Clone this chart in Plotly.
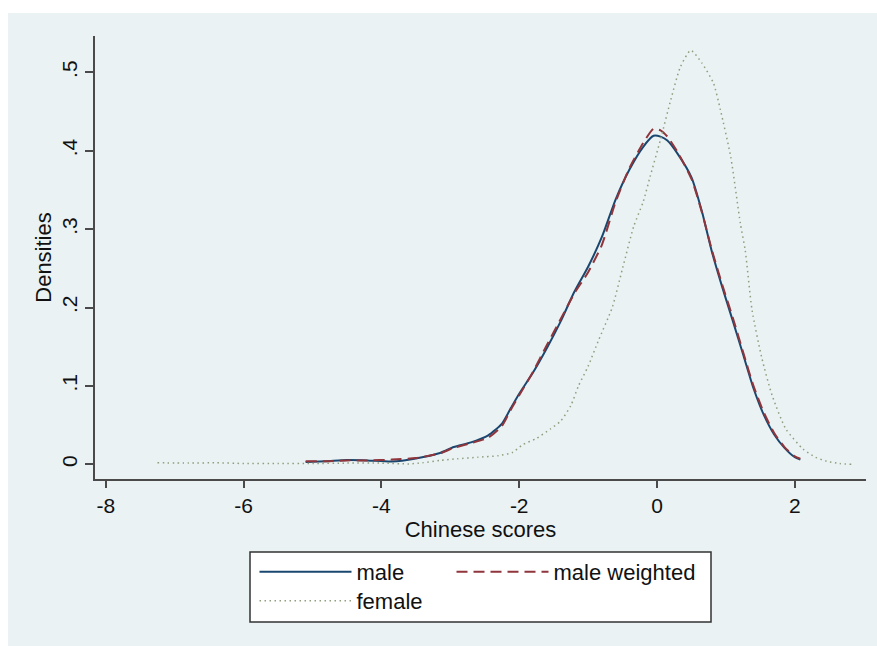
import plotly.graph_objects as go

# ---- data ----
male_x = [-5.1, -4.8, -4.5, -4.2, -3.85, -3.5, -3.15, -2.95, -2.7, -2.45, -2.25, -2.12, -2.0, -1.8,
          -1.6, -1.4, -1.2, -1.0, -0.8, -0.6, -0.4, -0.2, -0.05, 0.05, 0.15, 0.3, 0.5, 0.65, 0.8,
          0.95, 1.1, 1.25, 1.4, 1.55, 1.7, 1.85, 2.0, 2.08]
male_y = [0.003, 0.004, 0.0055, 0.005, 0.0035, 0.0075, 0.0145, 0.022, 0.028, 0.037, 0.052, 0.072,
          0.09, 0.117, 0.148, 0.182, 0.22, 0.252, 0.29, 0.338, 0.376, 0.405, 0.419, 0.418, 0.413,
          0.396, 0.366, 0.323, 0.27, 0.225, 0.183, 0.14, 0.097, 0.063, 0.038, 0.021, 0.009, 0.006]

weighted_x = male_x
weighted_y = [0.004, 0.004, 0.005, 0.005, 0.006, 0.008, 0.014, 0.021, 0.027, 0.034, 0.049, 0.07,
              0.088, 0.118, 0.152, 0.185, 0.218, 0.245, 0.28, 0.335, 0.378, 0.41, 0.428, 0.426,
              0.418, 0.398, 0.364, 0.322, 0.272, 0.228, 0.187, 0.143, 0.1, 0.066, 0.04, 0.022,
              0.01, 0.007]

female_x = [-7.25, -6.8, -6.4, -6.0, -5.5, -5.0, -4.5, -4.0, -3.6, -3.4, -3.15, -2.9, -2.6, -2.3,
            -2.1, -1.95, -1.75, -1.55, -1.4, -1.25, -1.14, -1.0, -0.85, -0.65, -0.5, -0.34, -0.2,
            -0.1, 0.05, 0.2, 0.34, 0.49, 0.65, 0.82, 0.92, 1.07, 1.21, 1.28, 1.38, 1.52, 1.67,
            1.87, 2.12, 2.3, 2.46, 2.65, 2.82]
female_y = [0.002, 0.0015, 0.002, 0.001, 0.001, 0.001, 0.0015, 0.0015, 0.0005, 0.002, 0.005, 0.007,
            0.009, 0.011, 0.015, 0.025, 0.033, 0.045, 0.055, 0.075, 0.1, 0.125, 0.158, 0.2, 0.25,
            0.303, 0.335, 0.367, 0.414, 0.465, 0.507, 0.528, 0.512, 0.486, 0.452, 0.392, 0.307,
            0.273, 0.196, 0.136, 0.088, 0.045, 0.0195, 0.009, 0.004, 0.001, 0.0]

x_ticks = [-8, -6, -4, -2, 0, 2]
y_ticks = [0, 0.1, 0.2, 0.3, 0.4, 0.5]
y_tick_text = ["0", ".1", ".2", ".3", ".4", ".5"]

FONT = "Liberation Sans, Arial, sans-serif"
BG = "#EAF2F3"
AXIS = "#4a4a4a"

fig = go.Figure()
fig.add_trace(go.Scatter(x=male_x, y=male_y, mode="lines", name="male", legend="legend",
                         line=dict(color="#1a476f", width=2, shape="spline", smoothing=0.6)))
fig.add_trace(go.Scatter(x=weighted_x, y=weighted_y, mode="lines", name="male weighted",
                         legend="legend2",
                         line=dict(color="#90353b", width=2, dash="11px,6px", shape="spline",
                                   smoothing=0.6)))
fig.add_trace(go.Scatter(x=female_x, y=female_y, mode="lines", name="female", legend="legend3",
                         line=dict(color="#8f9e7e", width=1.5, dash="1.5px,3.5px", shape="spline",
                                   smoothing=0.6)))

W, H = 877, 646
L, R, T, B = 95, 866, 36, 479
pw, ph = R - L, B - T


def px_x(p):
    return (p - L) / pw


def px_y(p):
    return (B - p) / ph


leg_common = dict(orientation="v", xanchor="left", yanchor="top",
                  bgcolor="rgba(0,0,0,0)", borderwidth=0,
                  itemwidth=92, font=dict(size=22, family=FONT, color="#111"))

fig.update_layout(
    width=W, height=H,
    margin=dict(l=L, r=W - R, t=T, b=H - B, autoexpand=False),
    paper_bgcolor="white", plot_bgcolor="white",
    font=dict(family=FONT, size=21, color="#111"),
    showlegend=True,
    legend=dict(x=px_x(254.5), y=px_y(551), **leg_common),
    legend2=dict(x=px_x(451.5), y=px_y(551), **leg_common),
    legend3=dict(x=px_x(254.5), y=px_y(580), **leg_common),
    shapes=[dict(type="rect", xref="paper", yref="paper",
                 x0=px_x(8), x1=px_x(W), y0=px_y(H), y1=px_y(13),
                 fillcolor=BG, line=dict(width=0), layer="below"),
            dict(type="rect", xref="paper", yref="paper",
                 x0=px_x(250), x1=px_x(711), y0=px_y(622), y1=px_y(552),
                 fillcolor="white", line=dict(color="#333", width=1.5), layer="below")],
)
fig.update_xaxes(range=[-8.157, 3.033], tickvals=x_ticks, ticktext=[str(v) for v in x_ticks],
                 showgrid=False, zeroline=False, showline=True, linecolor=AXIS, linewidth=2,
                 ticks="outside", ticklen=7, tickwidth=1.5, tickcolor=AXIS,
                 title=dict(text="Chinese scores", font=dict(size=22, family=FONT), standoff=3),
                 tickfont=dict(size=21, family=FONT))
fig.update_yaxes(range=[-0.01875, 0.5463], tickvals=y_ticks, ticktext=y_tick_text,
                 showgrid=True, gridcolor=BG, gridwidth=1.5, zeroline=False,
                 showline=True, linecolor=AXIS, linewidth=2,
                 ticks="outside", ticklen=8, tickwidth=1.5, tickcolor=AXIS, tickangle=-90,
                 title=dict(text="Densities", font=dict(size=22, family=FONT), standoff=0),
                 tickfont=dict(size=21, family=FONT))

fig.write_html("out.html")
